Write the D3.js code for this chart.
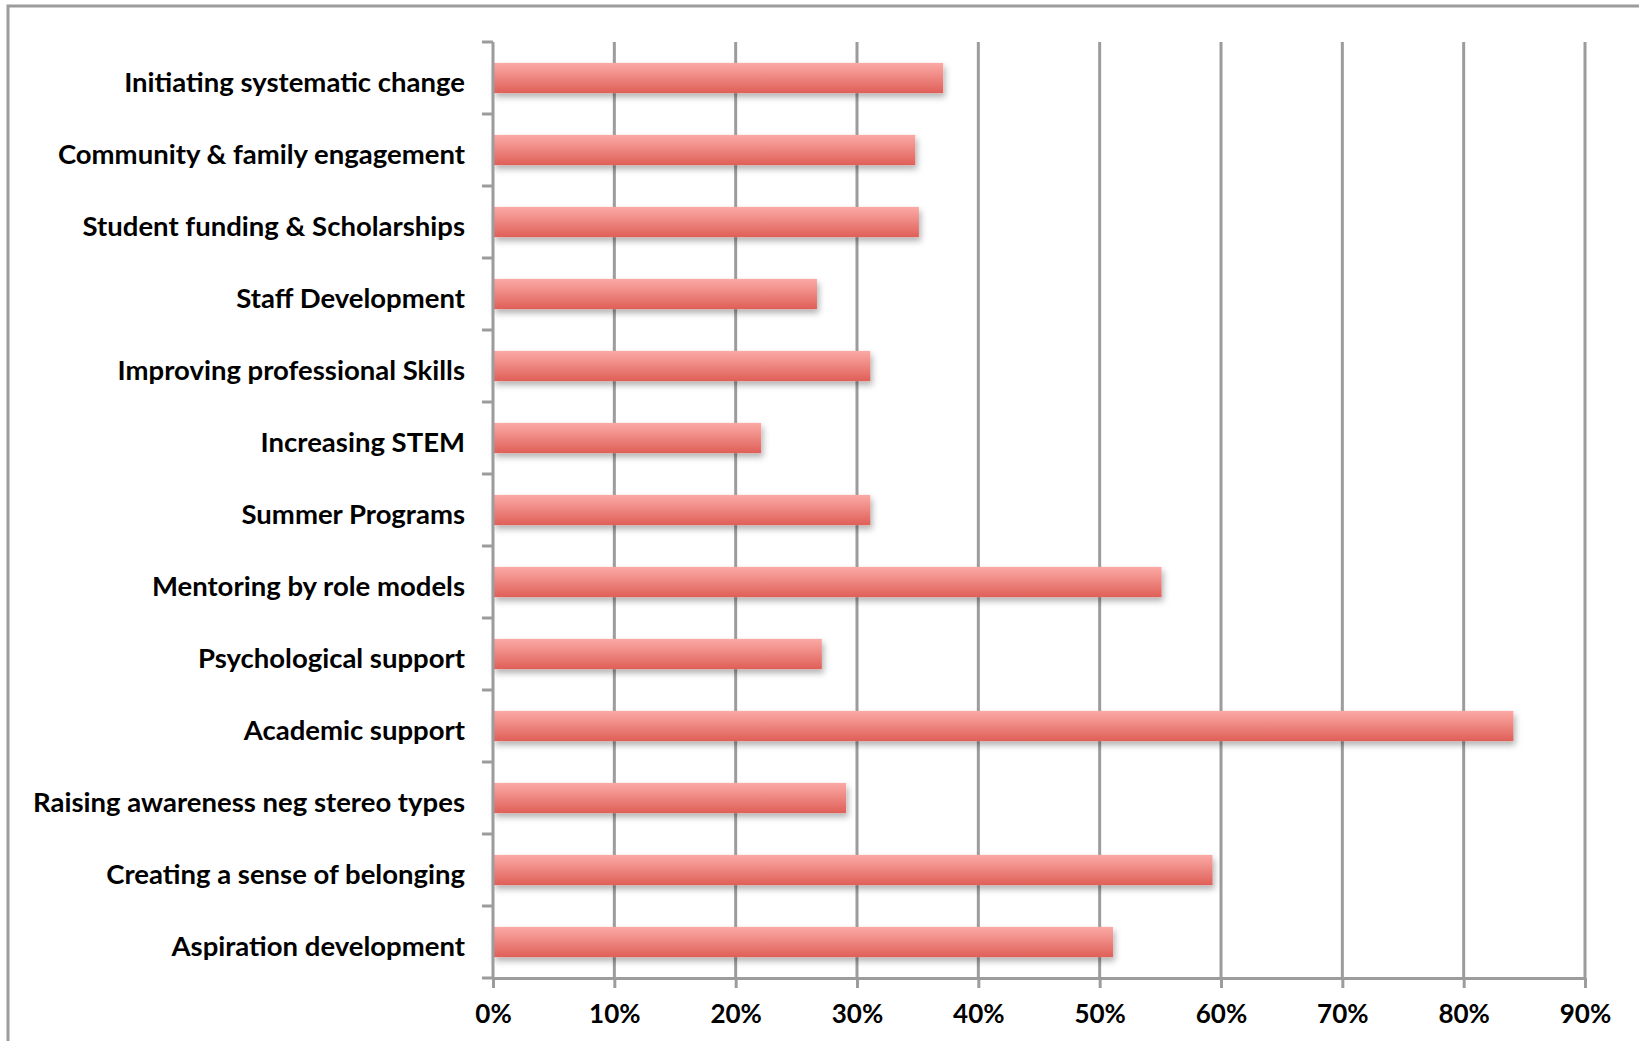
<!DOCTYPE html>
<html>
<head>
<meta charset="utf-8">
<script src="https://cdn.jsdelivr.net/npm/d3@7"></script>
<style>
  html, body { margin: 0; padding: 0; background: #fff; }
  svg { display: block; }
  text { font-family: Lato, "Open Sans", sans-serif; font-weight: 700; fill: #000; }
</style>
</head>
<body>
<div id="chart"></div>
<script>
// Categories, top to bottom as drawn
const categories = [
  "Initiating systematic change",
  "Community & family engagement",
  "Student funding & Scholarships",
  "Staff Development",
  "Improving professional Skills",
  "Increasing STEM",
  "Summer Programs",
  "Mentoring by role models",
  "Psychological support",
  "Academic support",
  "Raising awareness neg stereo types",
  "Creating a sense of belonging",
  "Aspiration development"
];

// Share of responses (fraction)
const values = [0.371, 0.348, 0.351, 0.267, 0.311, 0.221, 0.311, 0.551, 0.271, 0.841, 0.291, 0.593, 0.511];

const xTicks = [0, 0.1, 0.2, 0.3, 0.4, 0.5, 0.6, 0.7, 0.8, 0.9];

const width = 1639, height = 1041;
const margin = { top: 42, right: 54, bottom: 63, left: 493 };

const svg = d3.select("#chart").append("svg")
  .attr("width", width)
  .attr("height", height);

// Frame (only top and left edges show in the picture)
svg.append("path")
  .attr("d", `M ${width} 6 L 8 6 L 8 ${height}`)
  .attr("fill", "none")
  .attr("stroke", "#9c9c9c")
  .attr("stroke-width", 3);

const defs = svg.append("defs");
const grad = defs.append("linearGradient")
  .attr("id", "barGrad")
  .attr("x1", 0).attr("y1", 0).attr("x2", 0).attr("y2", 1);
grad.append("stop").attr("offset", "0%").attr("stop-color", "#fcaaa6");
grad.append("stop").attr("offset", "100%").attr("stop-color", "#df5f58");

const shadow = defs.append("filter")
  .attr("id", "barShadow")
  .attr("x", "-5%").attr("y", "-30%").attr("width", "110%").attr("height", "180%");
shadow.append("feDropShadow")
  .attr("dx", 2).attr("dy", 4)
  .attr("stdDeviation", 3)
  .attr("flood-color", "#000")
  .attr("flood-opacity", 0.3);

const x = d3.scaleLinear()
  .domain([0, 0.9])
  .range([margin.left, width - margin.right]);

const y = d3.scaleBand()
  .domain(categories)
  .range([margin.top, height - margin.bottom])
  .paddingInner(0.58)
  .paddingOuter(0.29);

const plotBottom = height - margin.bottom;

// Vertical gridlines
svg.append("g")
  .selectAll("line")
  .data(xTicks.slice(1))
  .join("line")
  .attr("x1", d => x(d)).attr("x2", d => x(d))
  .attr("y1", margin.top).attr("y2", plotBottom)
  .attr("stroke", "#9c9c9c")
  .attr("stroke-width", 3);

// Bars
svg.append("g")
  .selectAll("rect")
  .data(categories)
  .join("rect")
  .attr("x", x(0))
  .attr("y", d => y(d))
  .attr("width", (d, i) => x(values[i]) - x(0))
  .attr("height", y.bandwidth())
  .attr("fill", "url(#barGrad)")
  .attr("filter", "url(#barShadow)");

// Bottom axis
const xAxis = svg.append("g")
  .attr("transform", `translate(0, ${plotBottom})`)
  .call(d3.axisBottom(x).tickValues(xTicks).tickFormat(d3.format(".0%")).tickSize(10).tickSizeOuter(0).tickPadding(17));
xAxis.select(".domain").attr("stroke", "#9c9c9c").attr("stroke-width", 3);
xAxis.selectAll(".tick line").attr("stroke", "#9c9c9c").attr("stroke-width", 3);
xAxis.selectAll(".tick text")
  .attr("font-size", 26)
  .style("font-family", "Lato, 'Open Sans', sans-serif")
  .style("font-weight", 700)
  .attr("fill", "#000");

// Left axis: ticks sit at the category boundaries
const boundaries = d3.range(categories.length + 1).map(i => margin.top + i * y.step());
svg.append("g")
  .selectAll("line")
  .data(boundaries)
  .join("line")
  .attr("x1", margin.left - 11).attr("x2", margin.left)
  .attr("y1", d => d).attr("y2", d => d)
  .attr("stroke", "#9c9c9c")
  .attr("stroke-width", 3);

svg.append("line")
  .attr("x1", margin.left).attr("x2", margin.left)
  .attr("y1", margin.top).attr("y2", plotBottom)
  .attr("stroke", "#9c9c9c")
  .attr("stroke-width", 3);

// Category labels
svg.append("g")
  .selectAll("text")
  .data(categories)
  .join("text")
  .attr("x", margin.left - 28)
  .attr("y", d => y(d) + y.bandwidth() / 2 + 4)
  .attr("dy", "0.35em")
  .attr("text-anchor", "end")
  .attr("font-size", 27.5)
  .text(d => d);
</script>
</body>
</html>
